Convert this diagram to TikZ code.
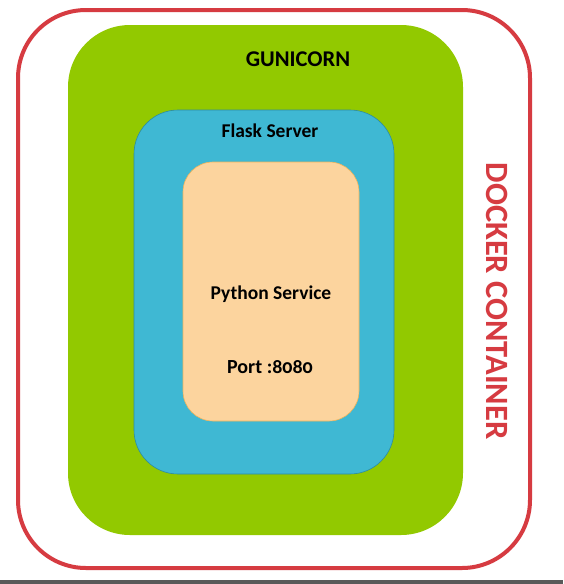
\documentclass[tikz,border=0pt]{standalone}
\usepackage{fontspec}
\setmainfont{Carlito}[Numbers=OldStyle]
\definecolor{dockred}{HTML}{D63B41}
\definecolor{gunigreen}{HTML}{92C900}
\definecolor{flaskblue}{HTML}{3FB8D3}
\definecolor{flaskedge}{HTML}{2D8CA0}
\definecolor{pyorange}{HTML}{FCD49E}
\definecolor{pyedge}{HTML}{F0B45A}
\definecolor{barGray}{HTML}{595959}
\tikzset{
  box/.style={rectangle, inner sep=0pt, outer sep=0pt},
  dockerbox/.style={box, draw=dockred, line width=4pt, fill=white, rounded corners=68pt},
  gunibox/.style={box, fill=gunigreen, rounded corners=62pt},
  flaskbox/.style={box, fill=flaskblue, draw=flaskedge, line width=0.6pt, rounded corners=44pt},
  pybox/.style={box, fill=pyorange, draw=pyedge, line width=0.6pt, rounded corners=30pt},
  lbl/.style={inner sep=0pt, text=black},
}
\begin{document}
\begin{tikzpicture}[x=1pt,y=-1pt]
\useasboundingbox (0,0) rectangle (563,584);
\fill[white] (0,0) rectangle (563,584);
\fill[barGray] (0,580) rectangle (563,584);
\node[dockerbox, minimum width=512pt, minimum height=558pt] (docker) at (274,289) {};
\node[gunibox, minimum width=395pt, minimum height=510pt] (gunicorn) at (265.5,280) {};
\node[flaskbox, minimum width=260pt, minimum height=364pt] (flask) at (264,292) {};
\node[pybox, minimum width=176pt, minimum height=259pt] (python) at (271,291.5) {};
\node[lbl, font=\fontsize{22.5}{26}\selectfont\bfseries] (gunilbl) at (298,59) {GUNICORN};
\node[lbl, font=\fontsize{19.5}{23}\selectfont\bfseries] (flasklbl) at (270,131) {Flask Server};
\node[lbl, font=\fontsize{19.5}{23}\selectfont\bfseries] (pylbl) at (271,294) {Python Service};
\node[lbl, font=\fontsize{20}{23}\selectfont\bfseries] (portlbl) at (270,367) {Port :8080};
\node[lbl, text=dockred, rotate=-90, font=\fontsize{32.5}{36}\selectfont\bfseries] (docklbl) at (497,301) {DOCKER CONTAINER};
\end{tikzpicture}
\end{document}
